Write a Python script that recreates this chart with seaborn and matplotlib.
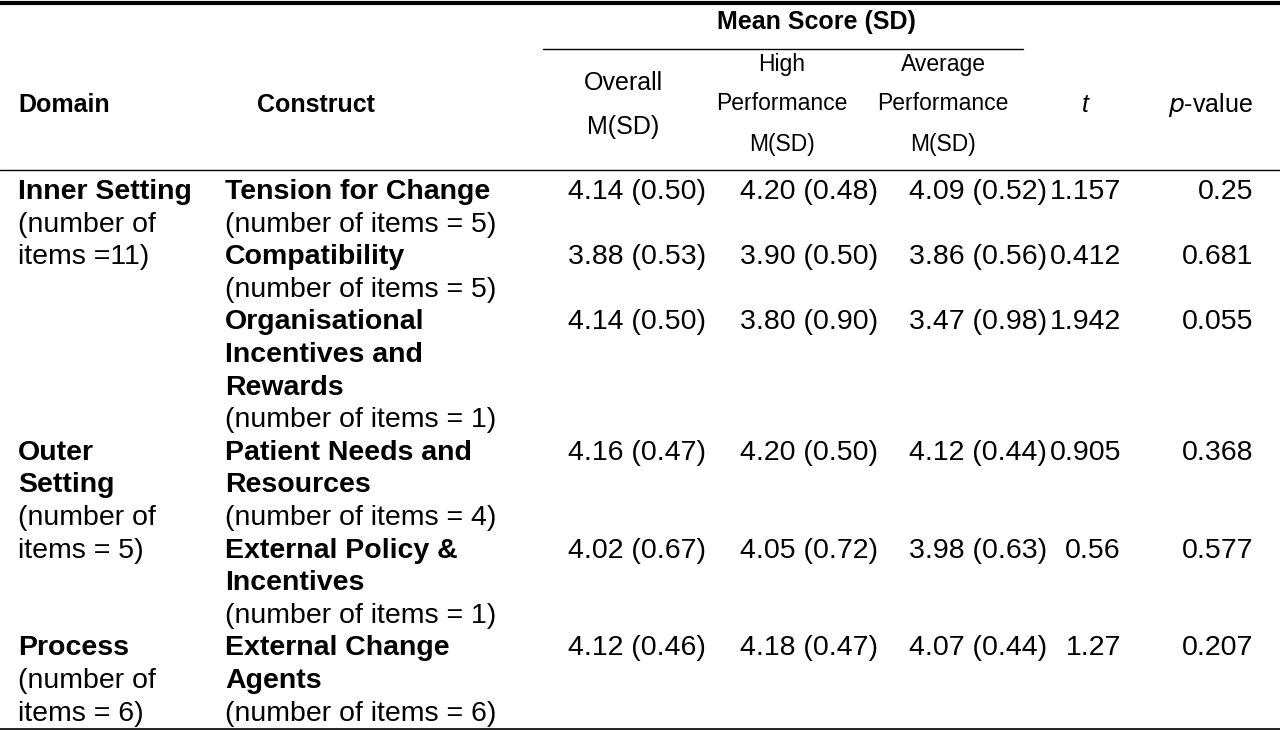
import matplotlib
matplotlib.use("Agg")
import matplotlib.pyplot as plt
import seaborn as sns

sns.set_style("white")
plt.rcParams['font.family'] = ['Liberation Sans', 'DejaVu Sans']
plt.rcParams['text.color'] = 'black'

# table contents
domains = [["Inner Setting", "(number of", "items =11)"],
           ["Outer", "Setting", "(number of", "items = 5)"],
           ["Process", "(number of", "items = 6)"]]
domain_bold_lines = [1, 2, 1]
constructs = [["Tension for Change"], ["Compatibility"],
              ["Organisational", "Incentives and", "Rewards"],
              ["Patient Needs and", "Resources"],
              ["External Policy &", "Incentives"],
              ["External Change", "Agents"]]
n_items = [5, 5, 1, 4, 1, 6]
overall = ["4.14 (0.50)", "3.88 (0.53)", "4.14 (0.50)", "4.16 (0.47)", "4.02 (0.67)", "4.12 (0.46)"]
high = ["4.20 (0.48)", "3.90 (0.50)", "3.80 (0.90)", "4.20 (0.50)", "4.05 (0.72)", "4.18 (0.47)"]
average = ["4.09 (0.52)", "3.86 (0.56)", "3.47 (0.98)", "4.12 (0.44)", "3.98 (0.63)", "4.07 (0.44)"]
t_vals = ["1.157", "0.412", "1.942", "0.905", "0.56", "1.27"]
p_vals = ["0.25", "0.681", "0.055", "0.368", "0.577", "0.207"]
domain_start_row = [0, 3, 5]

fig = plt.figure(figsize=(12.8, 7.31), dpi=100)
ax = fig.add_axes([0, 0, 1, 1])
ax.set_xlim(0, 1280)
ax.set_ylim(731, 0)
ax.axis("off")

fs = 20.5
hfs = 18
sfs = 16.5
lh = 32.6

# rules
ax.plot([0, 1280], [3, 3], color="black", lw=3)
ax.plot([543, 1023], [49, 49], color="black", lw=1)
ax.plot([0, 1280], [170, 170], color="black", lw=1)
ax.plot([0, 1280], [729, 729], color="black", lw=1.2)

# header
ax.text(816, 22, "Mean Score (SD)", ha="center", va="center", fontsize=hfs, weight="bold")
ax.text(18, 105, "Domain", ha="left", va="center", fontsize=hfs, weight="bold")
ax.text(316, 105, "Construct", ha="center", va="center", fontsize=hfs, weight="bold")
ax.text(623, 83, "Overall", ha="center", va="center", fontsize=hfs)
ax.text(623, 127, "M(SD)", ha="center", va="center", fontsize=hfs)
for xc, word in [(782, "High"), (943, "Average")]:
    ax.text(xc, 65, word, ha="center", va="center", fontsize=sfs)
    ax.text(xc, 104, "Performance", ha="center", va="center", fontsize=sfs)
    ax.text(xc, 145, "M(SD)", ha="center", va="center", fontsize=sfs)
ax.text(1085, 105, "t", ha="center", va="center", fontsize=hfs, style="italic")
ax.text(1168, 105, "$\\it{p}$-value", ha="left", va="center", fontsize=hfs)

# body rows
y = 192
row_y = []
for i, lines in enumerate(constructs):
    row_y.append(y)
    for j, ln in enumerate(lines):
        ax.text(225, y + j * lh, ln, ha="left", va="center", fontsize=fs, weight="bold")
    ax.text(225, y + len(lines) * lh, f"(number of items = {n_items[i]})",
            ha="left", va="center", fontsize=fs)
    ax.text(637, y, overall[i], ha="center", va="center", fontsize=fs)
    ax.text(809, y, high[i], ha="center", va="center", fontsize=fs)
    ax.text(978, y, average[i], ha="center", va="center", fontsize=fs)
    ax.text(1121, y, t_vals[i], ha="right", va="center", fontsize=fs)
    ax.text(1253, y, p_vals[i], ha="right", va="center", fontsize=fs)
    y += (len(lines) + 1) * lh

for lines, nb, r in zip(domains, domain_bold_lines, domain_start_row):
    for j, ln in enumerate(lines):
        ax.text(18, row_y[r] + j * lh, ln, ha="left", va="center", fontsize=fs,
                weight="bold" if j < nb else "normal")

fig.savefig("out.png", dpi=100)
